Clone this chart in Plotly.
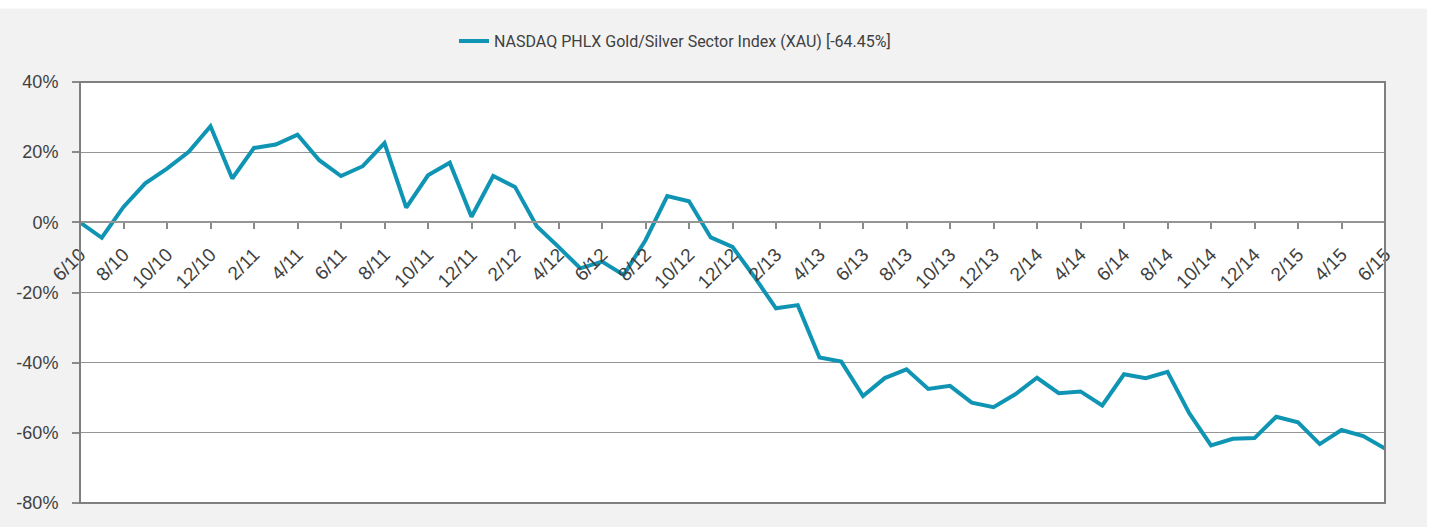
import plotly.graph_objects as go

months = [
    "6/10", "7/10", "8/10", "9/10", "10/10", "11/10", "12/10",
    "1/11", "2/11", "3/11", "4/11", "5/11", "6/11", "7/11", "8/11", "9/11", "10/11", "11/11", "12/11",
    "1/12", "2/12", "3/12", "4/12", "5/12", "6/12", "7/12", "8/12", "9/12", "10/12", "11/12", "12/12",
    "1/13", "2/13", "3/13", "4/13", "5/13", "6/13", "7/13", "8/13", "9/13", "10/13", "11/13", "12/13",
    "1/14", "2/14", "3/14", "4/14", "5/14", "6/14", "7/14", "8/14", "9/14", "10/14", "11/14", "12/14",
    "1/15", "2/15", "3/15", "4/15", "5/15", "6/15",
]

xau_returns = [
    0.0, -4.4, 4.4, 11.1, 15.3, 20.1, 27.4,
    12.5, 21.2, 22.2, 25.0, 17.7, 13.2, 16.0, 22.6, 4.2, 13.4, 17.0, 1.6,
    13.2, 10.1, -1.1, -7.0, -13.1, -11.2, -15.0, -5.1, 7.5, 6.0, -4.3, -7.0,
    -15.5, -24.5, -23.6, -38.5, -39.7, -49.5, -44.4, -41.9, -47.5, -46.6, -51.4, -52.7,
    -49.0, -44.3, -48.7, -48.2, -52.2, -43.3, -44.4, -42.6, -54.4, -63.6, -61.7, -61.5,
    -55.4, -57.0, -63.2, -59.2, -60.9, -64.45,
]

tick_labels = months[::2]
y_ticks = [40, 20, 0, -20, -40, -60, -80]
y_tick_text = ["40%", "20%", "0%", "-20%", "-40%", "-60%", "-80%"]
series_name = "NASDAQ PHLX Gold/Silver Sector Index (XAU) [-64.45%]"

LINE_COLOR = "#0f95b3"
TEXT_COLOR = "#404040"
GRID_COLOR = "#959595"
FONT = "Liberation Sans"

fig = go.Figure()
fig.add_trace(go.Scatter(
    x=months, y=xau_returns, mode="lines", name=series_name,
    line=dict(color=LINE_COLOR, width=4),
))

fig.update_layout(
    width=1430, height=527,
    margin=dict(l=80, r=45, t=82, b=24),
    paper_bgcolor="#f2f2f2",
    plot_bgcolor="#ffffff",
    showlegend=True,
    legend=dict(
        orientation="h", x=(675 - 80) / 1305, xanchor="center", y=1.097, yanchor="middle",
        font=dict(family="Roboto", size=16, color=TEXT_COLOR),
        bgcolor="rgba(0,0,0,0)",
    ),
    font=dict(family=FONT, color=TEXT_COLOR),
    xaxis=dict(
        type="category", categoryorder="array", categoryarray=months,
        range=[0, len(months) - 1],
        tickvals=tick_labels, ticktext=tick_labels,
        tickangle=-45, ticks="outside", ticklen=6, tickcolor="#8a8a8a", tickwidth=1.5,
        ticklabelstandoff=7,
        showgrid=False, zeroline=False,
        showline=True, linecolor=GRID_COLOR, linewidth=1.5,
        anchor="free", position=2/3,
        tickfont=dict(family=FONT, size=19, color=TEXT_COLOR),
    ),
    xaxis2=dict(
        type="category", categoryorder="array", categoryarray=months,
        range=[0, len(months) - 1], overlaying="x",
        tickvals=tick_labels, showticklabels=False,
        ticks="inside", ticklen=6, tickcolor="#8a8a8a", tickwidth=1.5,
        showgrid=False, zeroline=False, showline=False,
        anchor="free", position=2/3,
    ),
    yaxis=dict(
        range=[-80, 40], tickvals=y_ticks, ticktext=y_tick_text,
        ticks="outside", ticklen=7, tickcolor="#8a8a8a", tickwidth=1.5,
        ticklabelstandoff=10,
        showgrid=True, gridcolor=GRID_COLOR, gridwidth=1.2,
        zeroline=False, showline=False,
        tickfont=dict(family=FONT, size=18, color=TEXT_COLOR),
    ),
    shapes=[
        dict(type="rect", xref="paper", yref="paper", x0=0, x1=1, y0=0, y1=1,
             line=dict(color="#7f7f7f", width=2), fillcolor="rgba(0,0,0,0)", layer="above"),
        dict(type="rect", xref="paper", yref="paper",
             x0=-0.1, x1=1.1, y0=(503.3 - 8) / 421.6, y1=1.3,
             line=dict(width=0), fillcolor="#ffffff", layer="below"),
        dict(type="rect", xref="paper", yref="paper",
             x0=(1427 - 80) / 1305, x1=1.1, y0=-0.2, y1=1.3,
             line=dict(width=0), fillcolor="#ffffff", layer="below"),
    ],
)

fig.write_html("out.html", config={"displayModeBar": False},
               post_script="document.body.style.margin='0';")
